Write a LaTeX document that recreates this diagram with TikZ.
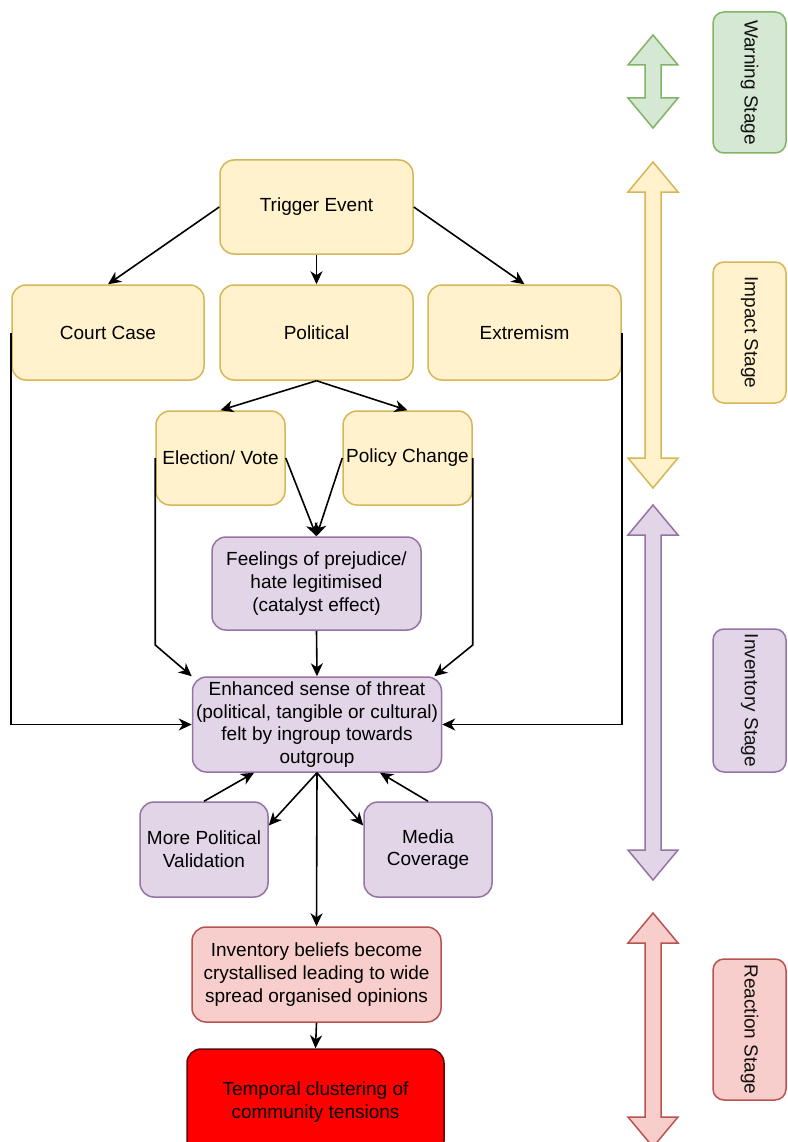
\documentclass[tikz,border=0pt]{standalone}
\usepackage{fontspec}
\setmainfont{Liberation Sans}
\usetikzlibrary{arrows.meta}

\definecolor{ylwfill}{HTML}{FFF2CC}
\definecolor{ylwline}{HTML}{D6B656}
\definecolor{purfill}{HTML}{E1D5E7}
\definecolor{purline}{HTML}{9673A6}
\definecolor{redfill}{HTML}{F8CECC}
\definecolor{redline}{HTML}{B85450}
\definecolor{grnfill}{HTML}{D5E8D4}
\definecolor{grnline}{HTML}{82B366}
\definecolor{hotfill}{HTML}{FF0000}
\definecolor{hotline}{HTML}{5E0A0A}
\definecolor{labeltext}{HTML}{111111}

% vertical two-headed block arrow: centre x, top tip y, bottom tip y, style
\newcommand{\stagearrow}[4]{%
  \draw[#4] (#1,#2) -- ++(25,30) -- ++(-17,0) -- (#1+8,#3-30) -- ++(17,0)
    -- (#1,#3) -- ++(-25,-30) -- ++(17,0) -- (#1-8,#2+30) -- ++(-17,0) -- cycle;}

\tikzset{
  box/.style={rectangle, rounded corners=14pt, line width=1.5pt, align=center,
    inner sep=2pt, font=\fontsize{19}{22.8}\selectfont},
  yel/.style={box, fill=ylwfill, draw=ylwline},
  pur/.style={box, fill=purfill, draw=purline},
  pink/.style={box, fill=redfill, draw=redline},
  hot/.style={box, fill=hotfill, draw=hotline},
  stagebox/.style={box, rounded corners=11pt, rotate=-90, text=labeltext,
    minimum width=141pt, minimum height=73pt},
  conn/.style={line width=1.6pt, -{Stealth[length=13pt,width=12pt,inset=4pt]}},
  blockarrow/.style={line width=1.5pt, line join=miter},
}

\begin{document}
\begin{tikzpicture}[x=1pt, y=-1pt]
\clip (0,0) rectangle (787,1142);
\fill[white] (0,0) rectangle (787,1142);

% impact stage
\node[yel, minimum width=193pt, minimum height=94pt] (trig) at (316.5,207) {Trigger Event};
\node[yel, minimum width=192pt, minimum height=95pt] (court) at (108,332.5) {Court Case};
\node[yel, minimum width=193pt, minimum height=95pt] (polit) at (316.5,332.5) {Political};
\node[yel, minimum width=193pt, minimum height=95pt] (extr) at (524.5,332.5) {Extremism};
\node[yel, minimum width=129pt, minimum height=94pt, inner sep=0pt] (elec) at (220.5,458) {Election/ Vote};
\node[yel, minimum width=129pt, minimum height=94pt, inner sep=0pt] (poli) at (407.5,458) {Policy Change\strut};

% inventory stage
\node[pur, minimum width=209pt, minimum height=93pt] (feel) at (316.5,583.5)
  {Feelings of prejudice/\\hate legitimised\\(catalyst effect)};
\node[pur, minimum width=249pt, minimum height=95pt, inner sep=1pt] (enh) at (317,724.5)
  {Enhanced sense of threat\\(political, tangible or cultural)\\felt by ingroup towards\\outgroup};
\node[pur, minimum width=128pt, minimum height=95pt] (mpv) at (204,849.5) {More Political\\Validation};
\node[pur, minimum width=128pt, minimum height=95pt] (media) at (428,849.5) {Media\\Coverage};

% reaction stage
\node[pink, minimum width=249pt, minimum height=95pt] (inv) at (316.5,974.5)
  {Inventory beliefs become\\crystallised leading to wide\\spread organised opinions};
\node[hot, minimum width=257pt, minimum height=106pt] (temp) at (315.5,1102)
  {Temporal clustering of\\community tensions};

% connectors
\draw[conn] (trig.west) -- (court.north);
\draw[conn] (trig.south) -- (polit.north);
\draw[conn] (trig.east) -- (extr.north);
\draw[conn] (polit.south) -- (elec.north);
\draw[conn] (polit.south) -- (poli.north);
\draw[conn] (elec.east) -- (feel.north);
\draw[conn] (poli.west) -- (feel.north);
\draw[conn] (elec.west) -- ++(0,187) -- (enh.north west);
\draw[conn] (poli.east) -- ++(0,187) -- ([xshift=-8pt]enh.north east);
\draw[conn] (feel.south) -- (enh.north);
\draw[conn] (court.west) |- (enh.west);
\draw[conn] (extr.east) |- (enh.east);
\draw[conn] (mpv.north) -- ([xshift=-63pt]enh.south);
\draw[conn] (enh.south) -- ([yshift=24pt]mpv.east);
\draw[conn] (enh.south) -- ([yshift=24pt]media.west);
\draw[conn] (media.north) -- ([xshift=63pt]enh.south);
\draw[conn] (enh.south) -- (inv.north);
\draw[conn] (inv.south) -- (temp.north);

% stage span arrows
\stagearrow{653}{35}{128}{blockarrow, fill=grnfill, draw=grnline}
\stagearrow{653}{162}{488}{blockarrow, fill=ylwfill, draw=ylwline}
\stagearrow{653}{505}{880}{blockarrow, fill=purfill, draw=purline}
\stagearrow{653}{913}{1147}{blockarrow, fill=redfill, draw=redline}

% stage labels
\node[stagebox, fill=grnfill, draw=grnline] (warn) at (749.5,82.5) {Warning Stage};
\node[stagebox, fill=ylwfill, draw=ylwline] (impact) at (749.5,332.5) {Impact Stage};
\node[stagebox, fill=purfill, draw=purline, minimum width=143pt] (invst) at (749.5,700.5) {Inventory Stage};
\node[stagebox, fill=redfill, draw=redline] (react) at (749.5,1029.5) {Reaction Stage};
\end{tikzpicture}
\end{document}
